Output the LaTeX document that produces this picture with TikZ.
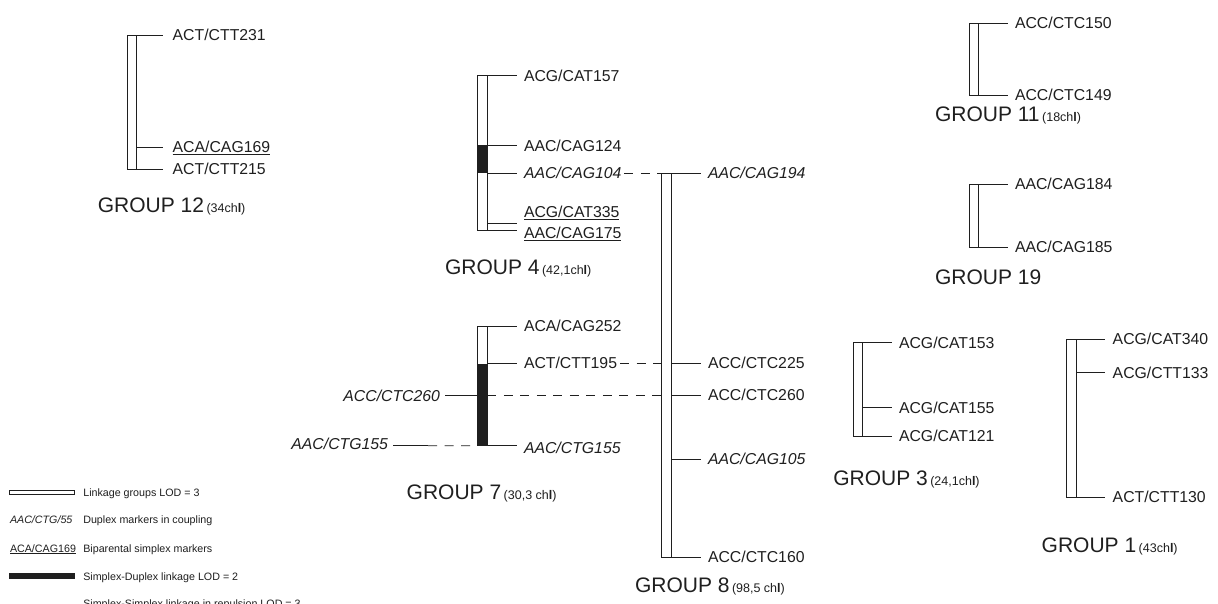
\documentclass[tikz,border=0pt]{standalone}
\usepackage{fontspec}
\setmainfont{Liberation Sans}
\usetikzlibrary{calc}
\newcommand{\sm}[1]{\hspace{2.5pt}{\fontsize{12.5}{14}\selectfont #1}}
\colorlet{ink}{black!88}
\begin{document}
\begin{tikzpicture}[x=1pt,y=-1pt,
  ln/.style={line width=0.9pt, draw=ink},
  dsh/.style={ln, dash pattern=on 9pt off 7.5pt},
  barbox/.style={ln, fill=white, inner sep=0pt, outer sep=0pt, anchor=north west},
  blk/.style={fill=ink},
  mk/.style={anchor=west, inner sep=0pt, outer sep=0pt, text=ink,
    font=\fontsize{15.8}{18}\selectfont, text height=11.3pt, text depth=0pt},
  mki/.style={mk, font=\fontsize{15.8}{18}\selectfont\itshape},
  grp/.style={anchor=west, inner sep=0pt, outer sep=0pt, text=ink,
    font=\fontsize{21}{24}\selectfont, text height=15pt, text depth=0pt},
  lg/.style={anchor=west, inner sep=0pt, outer sep=0pt, text=ink,
    font=\fontsize{10.7}{12}\selectfont, text height=7.7pt, text depth=0pt},
  lgi/.style={lg, font=\fontsize{10.7}{12}\selectfont\itshape}
]
\useasboundingbox (0,0) rectangle (1218,603);
\fill[white] (0,0) rectangle (1218,603);
\clip (0,0) rectangle (1218,603);

% ---------------- GROUP 12
\node[barbox, minimum width=8.7pt, minimum height=134.3pt] (g12bar) at (127.3,35) {};
\node[mk] (g12a) at (172.7,35) {ACT/CTT231};
\node[mk] (g12b) at (172.7,147) {\underline{ACA/CAG169}};
\node[mk] (g12c) at (172.7,169.3) {ACT/CTT215};
\foreach \n in {g12a,g12b,g12c}
  \draw[ln] (g12bar.east |- \n.west) -- ([xshift=-9.7pt]\n.west);
\node[grp] (g12t) at (97.8,205) {GROUP 12\sm{(34ch\textbf{l})}};

% ---------------- GROUP 4
\node[barbox, minimum width=9.3pt, minimum height=154.3pt] (g4bar) at (477.7,75.7) {};
\fill[blk] (477.7,145) rectangle (487,173);
\node[mk] (g4a) at (524,75.7) {ACG/CAT157};
\node[mk] (g4b) at (524,145.5) {AAC/CAG124};
\node[mki] (g4c) at (524,173) {AAC/CAG104};
\node[mk] (g4d) at (524,212.3) {\underline{ACG/CAT335}};
\node[mk] (g4e) at (524,233.3) {\underline{AAC/CAG175}};
\foreach \n in {g4a,g4b,g4c}
  \draw[ln] (g4bar.east |- \n.west) -- ([xshift=-6.7pt]\n.west);
\coordinate (g4dt) at (487,223.3);
\draw[ln] (g4dt) -- ++(30.3,0);
\draw[ln] (g4bar.south east) -- ++(30.3,0);
\node[grp] (g4t) at (445,267) {GROUP 4\sm{(42,1ch\textbf{l})}};

% ---------------- GROUP 8
\node[barbox, minimum width=9.3pt, minimum height=384.3pt] (g8bar) at (661.7,173) {};
\node[mki] (g8a) at (708,173) {AAC/CAG194};
\node[mk] (g8b) at (708,363) {ACC/CTC225};
\node[mk] (g8c) at (708,395) {ACC/CTC260};
\node[mki] (g8d) at (708,459) {AAC/CAG105};
\node[mk] (g8e) at (708,557.3) {ACC/CTC160};
\foreach \n in {g8a,g8b,g8c,g8d,g8e}
  \draw[ln] (g8bar.east |- \n.west) -- ([xshift=-7pt]\n.west);
\node[grp] (g8t) at (635,585) {GROUP 8\sm{(98,5 ch\textbf{l})}};
\draw[dsh] ([xshift=3pt]g4c.east) -- (g8bar.north west);

% ---------------- GROUP 7
\node[barbox, minimum width=9.8pt, minimum height=119.7pt] (g7bar) at (477.5,326) {};
\fill[blk] (477.5,364) rectangle (487.3,445.7);
\node[mk] (g7a) at (524,326) {ACA/CAG252};
\node[mk] (g7b) at (524,363) {ACT/CTT195};
\node[mki] (g7c) at (524,447.5) {AAC/CTG155};
\foreach \n in {g7a,g7b}
  \draw[ln] (g7bar.east |- \n.west) -- ([xshift=-7.3pt]\n.west);
\draw[ln] (g7bar.south east) -- ++(29.4,0);
\node[mki, anchor=east] (g7L1) at (440,395.5) {ACC/CTC260};
\node[mki, anchor=east] (g7L2) at (388,444) {AAC/CTG155};
\draw[ln] ([xshift=5pt]g7L1.east) -- (g7bar.west |- g7L1.east);
\draw[dsh] (g7bar.east |- g8c.west) -- (g8bar.west |- g8c.west);
\coordinate (g7m) at (428,445.7);
\draw[ln] ([xshift=5pt]g7L2.east |- g7m) -- (g7m);
\draw[dsh] (g7m) -- (g7bar.south west);
\draw[dsh] ([xshift=3pt]g7b.east) -- (g8bar.west |- g7b.east);
\node[grp] (g7t) at (406.7,492) {GROUP 7\sm{(30,3 ch\textbf{l})}};

% ---------------- GROUP 11
\node[barbox, minimum width=9.3pt, minimum height=71.7pt] (g11bar) at (969,23.3) {};
\node[mk] (g11a) at (1015,23.3) {ACC/CTC150};
\node[mk] (g11b) at (1015,95) {ACC/CTC149};
\foreach \n in {g11a,g11b}
  \draw[ln] (g11bar.east |- \n.west) -- ([xshift=-6.7pt]\n.west);
\node[grp] (g11t) at (935,114) {GROUP 11\sm{(18ch\textbf{l})}};

% ---------------- GROUP 19
\node[barbox, minimum width=9.3pt, minimum height=63pt] (g19bar) at (969,184.3) {};
\node[mk] (g19a) at (1015,184.3) {AAC/CAG184};
\node[mk] (g19b) at (1015,247.3) {AAC/CAG185};
\foreach \n in {g19a,g19b}
  \draw[ln] (g19bar.east |- \n.west) -- ([xshift=-6.7pt]\n.west);
\node[grp] (g19t) at (935,277) {GROUP 19};

% ---------------- GROUP 3
\node[barbox, minimum width=9pt, minimum height=93.3pt] (g3bar) at (853.3,342.7) {};
\node[mk] (g3a) at (899,342.7) {ACG/CAT153};
\node[mk] (g3b) at (899,407.5) {ACG/CAT155};
\node[mk] (g3c) at (899,436) {ACG/CAT121};
\foreach \n in {g3a,g3b,g3c}
  \draw[ln] (g3bar.east |- \n.west) -- ([xshift=-7.3pt]\n.west);
\node[grp] (g3t) at (833.3,478) {GROUP 3\sm{(24,1ch\textbf{l})}};

% ---------------- GROUP 1
\node[barbox, minimum width=9.3pt, minimum height=158pt] (g1bar) at (1066.7,339) {};
\node[mk] (g1a) at (1112.7,339) {ACG/CAT340};
\node[mk] (g1b) at (1112.7,372.5) {ACG/CTT133};
\node[mk] (g1c) at (1112.7,497) {ACT/CTT130};
\foreach \n in {g1a,g1b,g1c}
  \draw[ln] (g1bar.east |- \n.west) -- ([xshift=-7.7pt]\n.west);
\node[grp] (g1t) at (1041.7,545) {GROUP 1\sm{(43ch\textbf{l})}};

% ---------------- legend
\node[barbox, minimum width=64.7pt, minimum height=4.3pt] (lgA) at (9.3,490) {};
\node[lg] (lgAt) at (83.3,492.2) {Linkage groups LOD = 3};
\node[lgi] (lgB) at (10,520) {AAC/CTG/55};
\node[lg] (lgBt) at (83.3,520) {Duplex markers in coupling};
\node[lg] (lgC) at (10,548.3) {\underline{ACA/CAG169}};
\node[lg] (lgCt) at (83.3,548.3) {Biparental simplex markers};
\node[blk, inner sep=0pt, outer sep=0pt, anchor=north west, minimum width=65.7pt, minimum height=6pt] (lgD) at (9.3,573.3) {};
\node[lg] (lgDt) at (83.3,576.3) {Simplex-Duplex linkage LOD = 2};
\node[lg] (lgEt) at (83.3,603.5) {Simplex-Simplex linkage in repulsion LOD = 3};
\end{tikzpicture}
\end{document}
